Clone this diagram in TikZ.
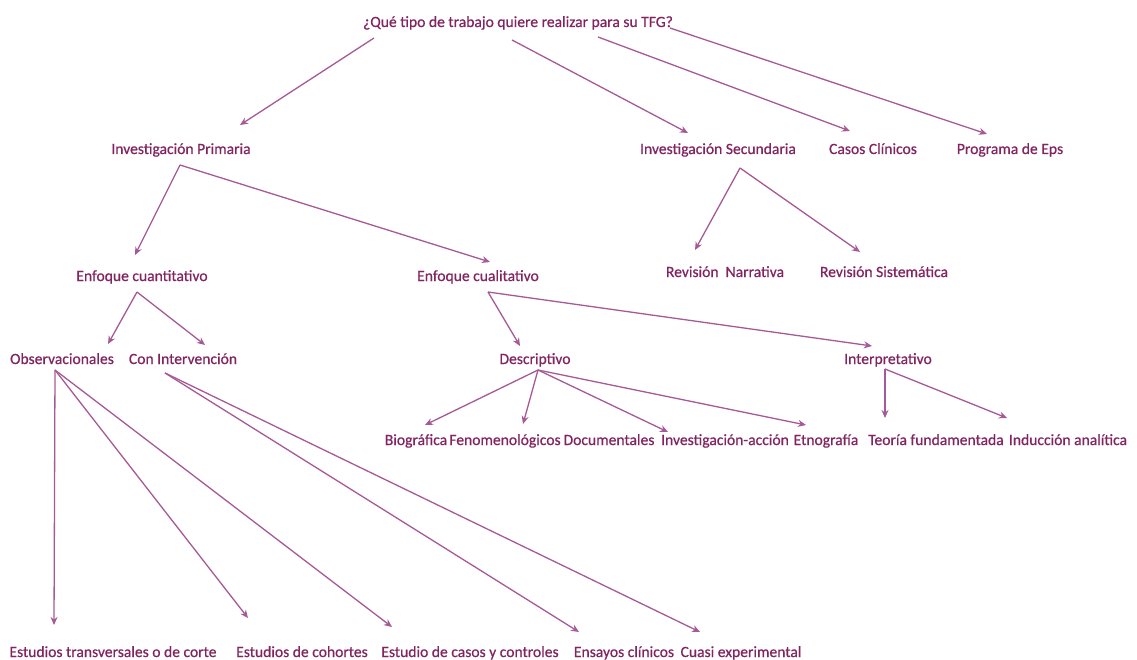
\documentclass[tikz,border=0pt]{standalone}
\usepackage{fontspec}
\setmainfont{Carlito}
\newfontfamily\lblfont{Carlito}[FakeBold=0.6]
\usetikzlibrary{arrows.meta}
\definecolor{txt}{HTML}{82245F}
\definecolor{ln}{HTML}{A65A95}
\begin{document}
\begin{tikzpicture}[x=1pt,y=-1pt,
  lbl/.style={anchor=base,inner sep=0pt,text=txt,font=\lblfont\fontsize{15.6}{17}\selectfont},
  arr/.style={draw=ln,line width=1.3pt,-{Stealth[length=8pt,width=7pt]}}]
\useasboundingbox (0,0) rectangle (1137,660);
% nodes
\node[lbl] (q) at (518,27) {¿Qué tipo de trabajo quiere realizar para su TFG?};
\node[lbl] (ip) at (181,154) {Investigación Primaria};
\node[lbl] (is) at (718,154) {Investigación Secundaria};
\node[lbl] (cc) at (873,154) {Casos Clínicos};
\node[lbl] (pe) at (1010,154) {Programa de Eps};
\node[lbl] (ecn) at (142,281) {Enfoque cuantitativo};
\node[lbl] (ecl) at (478,281) {Enfoque cualitativo};
\node[lbl] (rn) at (725,277) {Revisión\ \ Narrativa};
\node[lbl] (rs) at (884,277) {Revisión Sistemática};
\node[lbl] (obs) at (62,364) {Observacionales};
\node[lbl] (ci) at (183,364) {Con Intervención};
\node[lbl] (des) at (535,364) {Descriptivo};
\node[lbl] (int) at (888,364) {Interpretativo};
\node[lbl] (bio) at (416,445) {Biográfica};
\node[lbl] (fen) at (505,445) {Fenomenológicos};
\node[lbl] (doc) at (609,445) {Documentales};
\node[lbl] (iac) at (725,445) {Investigación-acción};
\node[lbl] (etn) at (826,445) {Etnografía};
\node[lbl] (tf) at (936,445) {Teoría fundamentada};
\node[lbl] (ia) at (1068,445) {Inducción analítica};
\node[lbl] (et) at (113,657) {Estudios transversales o de corte};
\node[lbl] (ec) at (302,657) {Estudios de cohortes};
\node[lbl] (ecc) at (470,657) {Estudio de casos y controles};
\node[lbl] (en) at (624,657) {Ensayos clínicos};
\node[lbl] (cu) at (741,657) {Cuasi experimental};
% connector ends
\coordinate (q1) at (374,38);
\coordinate (q2) at (512,40);
\coordinate (q3) at (598,37);
\coordinate (q4) at (670,28);
\coordinate (ipT) at (240,125);
\coordinate (isT) at (688,133);
\coordinate (ccT) at (850,131);
\coordinate (peT) at (987,134);
\coordinate (ipB) at (180,165);
\coordinate (ecnT) at (135,255);
\coordinate (eclT) at (490,262);
\coordinate (isB) at (740,168);
\coordinate (rnT) at (695,250);
\coordinate (rsT) at (860,252);
\coordinate (ecnB) at (137,292);
\coordinate (obsT) at (108,344);
\coordinate (ciT) at (205,345);
\coordinate (eclB) at (488,292);
\coordinate (desT) at (520,346);
\coordinate (intT) at (872,346);
\coordinate (desB) at (538,370);
\coordinate (bioT) at (425,425);
\coordinate (fenT) at (523,424);
\coordinate (docT) at (668,432);
\coordinate (iacT) at (806,425);
\coordinate (intB) at (885,369);
\coordinate (tfT) at (885,418);
\coordinate (iaT) at (1007,418);
\coordinate (obsB) at (55,370);
\coordinate (etT) at (54,625);
\coordinate (ecT) at (248,618);
\coordinate (eccT) at (392,627);
\coordinate (ciB) at (165,373);
\coordinate (enT) at (579,632);
\coordinate (cuT) at (700,632);
% connectors
\draw[arr] (q1) -- (ipT);
\draw[arr] (q2) -- (isT);
\draw[arr] (q3) -- (ccT);
\draw[arr] (q4) -- (peT);
\draw[arr] (ipB) -- (ecnT);
\draw[arr] (ipB) -- (eclT);
\draw[arr] (isB) -- (rnT);
\draw[arr] (isB) -- (rsT);
\draw[arr] (ecnB) -- (obsT);
\draw[arr] (ecnB) -- (ciT);
\draw[arr] (eclB) -- (desT);
\draw[arr] (eclB) -- (intT);
\draw[arr] (desB) -- (bioT);
\draw[arr] (desB) -- (fenT);
\draw[arr] (desB) -- (docT);
\draw[arr] (desB) -- (iacT);
\draw[arr] (intB) -- (tfT);
\draw[arr] (intB) -- (iaT);
\draw[arr] (obsB) -- (etT);
\draw[arr] (obsB) -- (ecT);
\draw[arr] (obsB) -- (eccT);
\draw[arr] (ciB) -- (enT);
\draw[arr] (ciB) -- (cuT);
\end{tikzpicture}
\end{document}
